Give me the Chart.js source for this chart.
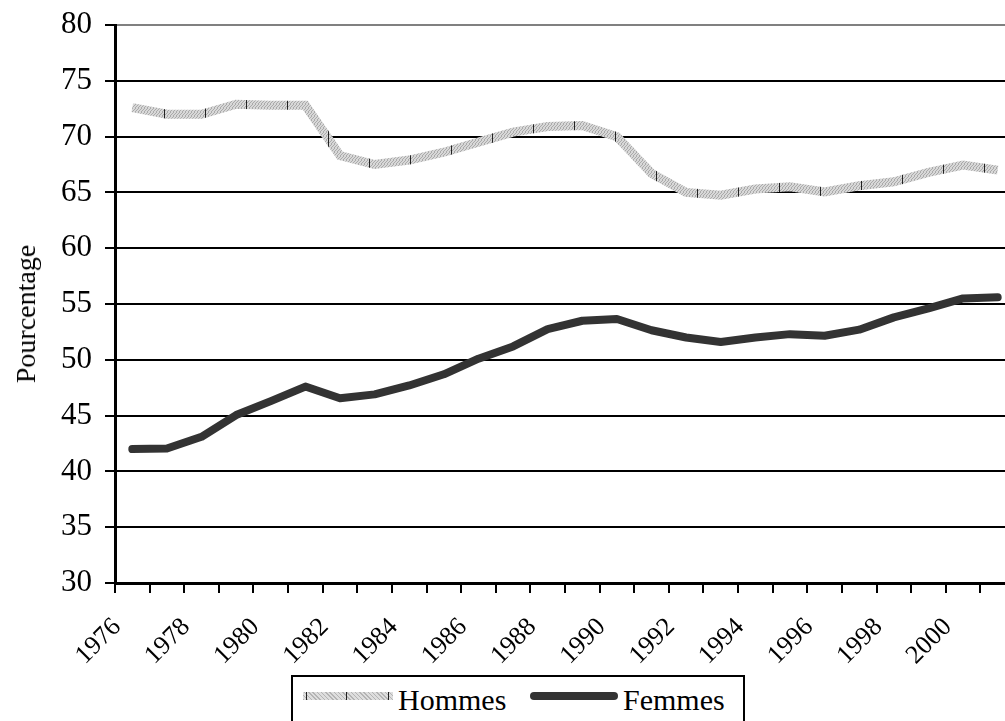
<!DOCTYPE html>
<html>
<head>
<meta charset="utf-8">
<script src="https://cdn.jsdelivr.net/npm/chart.js@4.4.0/dist/chart.umd.min.js"></script>
<style>
  html, body { margin: 0; padding: 0; background: #fff; overflow: hidden; }
  #wrap { position: relative; width: 1005px; height: 721px; overflow: hidden; }
  #box { position: absolute; left: 0; top: 0; width: 1040px; height: 721px; }
  #ytitle {
    position: absolute; left: 26px; top: 314px; transform: translate(-50%, -50%) rotate(-90deg);
    font-family: "Liberation Serif", "Times New Roman", serif; font-size: 28px; line-height: 1;
    white-space: nowrap; color: #000;
  }
  #legend {
    position: absolute; left: 291px; top: 675px; width: 454px; height: 70px;
    box-sizing: border-box; border: 2px solid #000; background: #fff;
    font-family: "Liberation Serif", "Times New Roman", serif; font-size: 30px; color: #000;
  }
  #legend span { position: absolute; line-height: 30px; top: 8px; }
  .hatch {
    position: absolute; left: 10px; top: 15px; width: 90px; height: 8px;
    background:
      linear-gradient(90deg, transparent 3px, #222 3px, #222 4px, transparent 4px, transparent 43px, #222 43px, #222 44px, transparent 44px, transparent 85px, #222 85px, #222 86px, transparent 86px),
      repeating-linear-gradient(45deg, #b4b4b4 0 1px, #dedede 1px 3px);
  }
  .solid {
    position: absolute; left: 237px; top: 15px; width: 88px; height: 8px;
    background: #333; border-radius: 4px;
  }
</style>
</head>
<body>
<div id="wrap">
  <div id="box"><canvas id="chart" width="1040" height="721"></canvas></div>
  <div id="ytitle">Pourcentage</div>
  <div id="legend">
    <div class="hatch"></div><span style="left:105px">Hommes</span>
    <div class="solid"></div><span style="left:330px">Femmes</span>
  </div>
</div>
<script>
// Taux d'activité par sexe, 1976-2001
const years = [1976, 1977, 1978, 1979, 1980, 1981, 1982, 1983, 1984, 1985, 1986, 1987, 1988,
               1989, 1990, 1991, 1992, 1993, 1994, 1995, 1996, 1997, 1998, 1999, 2000, 2001];
const hommes = [72.6, 72.0, 72.0, 72.9, 72.8, 72.8, 68.3, 67.5, 67.9, 68.6, 69.5, 70.4, 70.9,
                71.0, 70.0, 66.7, 65.0, 64.75, 65.3, 65.5, 65.05, 65.6, 65.95, 66.8, 67.45, 67.0];
const femmes = [42.0, 42.05, 43.1, 45.05, 46.3, 47.6, 46.55, 46.9, 47.7, 48.7, 50.1, 51.2, 52.75,
                53.5, 53.65, 52.65, 52.0, 51.6, 52.0, 52.3, 52.15, 52.7, 53.8, 54.6, 55.5, 55.6];
const tickLabels = ['1976', '1978', '1980', '1982', '1984', '1986', '1988', '1990', '1992',
                    '1994', '1996', '1998', '2000'];

const font = '"Liberation Serif", "Times New Roman", serif';

// grey hatched stroke with dark marks, like the original
function hatchPattern() {
  const c = document.createElement('canvas');
  c.width = 41; c.height = 4;
  const g = c.getContext('2d');
  g.fillStyle = '#d8d8d8';
  g.fillRect(0, 0, 41, 4);
  g.fillStyle = '#aaaaaa';
  for (let x = 0; x < 41; x++) {
    for (let y = 0; y < 4; y++) {
      if ((x + y) % 3 === 0) g.fillRect(x, y, 1, 1);
    }
  }
  g.fillStyle = '#222';
  g.fillRect(0, 0, 1, 4);
  return g.createPattern(c, 'repeat');
}

const pts = (arr) => arr.map((v, i) => ({ x: years[i] + 0.5, y: v }));

new Chart(document.getElementById('chart'), {
  type: 'line',
  data: {
    datasets: [
      {
        label: 'Hommes',
        data: pts(hommes),
        borderColor: hatchPattern(),
        borderWidth: 9,
        borderCapStyle: 'butt',
        borderJoinStyle: 'miter',
        pointRadius: 0,
        tension: 0,
      },
      {
        label: 'Femmes',
        data: pts(femmes),
        borderColor: '#333333',
        borderWidth: 8,
        borderCapStyle: 'round',
        borderJoinStyle: 'round',
        pointRadius: 0,
        tension: 0,
      },
    ],
  },
  options: {
    responsive: false,
    animation: false,
    layout: { padding: { top: 25, right: 25, left: 0, bottom: 0 } },
    plugins: {
      legend: { display: false },
      tooltip: { enabled: false },
    },
    scales: {
      x: {
        type: 'linear',
        min: 1976,
        max: 2002,
        afterFit: (s) => { s.height = 138; s.paddingLeft = 0; s.paddingRight = 0; },
        grid: {
          drawOnChartArea: false,
          color: '#000',
          lineWidth: 2,
          tickLength: 10,
        },
        border: { color: '#000', width: 3 },
        ticks: {
          stepSize: 1,
          autoSkip: false,
          minRotation: 45,
          maxRotation: 45,
          padding: 19,
          labelOffset: 2,
          color: '#000',
          font: { family: font, size: 26 },
          callback: (v) => (tickLabels.includes(String(v)) ? String(v) : ''),
        },
      },
      y: {
        min: 30,
        max: 80,
        afterFit: (s) => { s.width = 115; s.paddingTop = 0; s.paddingBottom = 0; },
        grid: {
          color: (c) => (c.tick && c.tick.value === 80 ? '#808080' : '#000'),
          tickColor: '#000',
          lineWidth: 2,
          tickLength: 10,
        },
        border: { color: '#000', width: 3 },
        ticks: {
          stepSize: 5,
          padding: 13,
          color: '#000',
          font: { family: font, size: 31 },
        },
      },
    },
  },
});
</script>
</body>
</html>
